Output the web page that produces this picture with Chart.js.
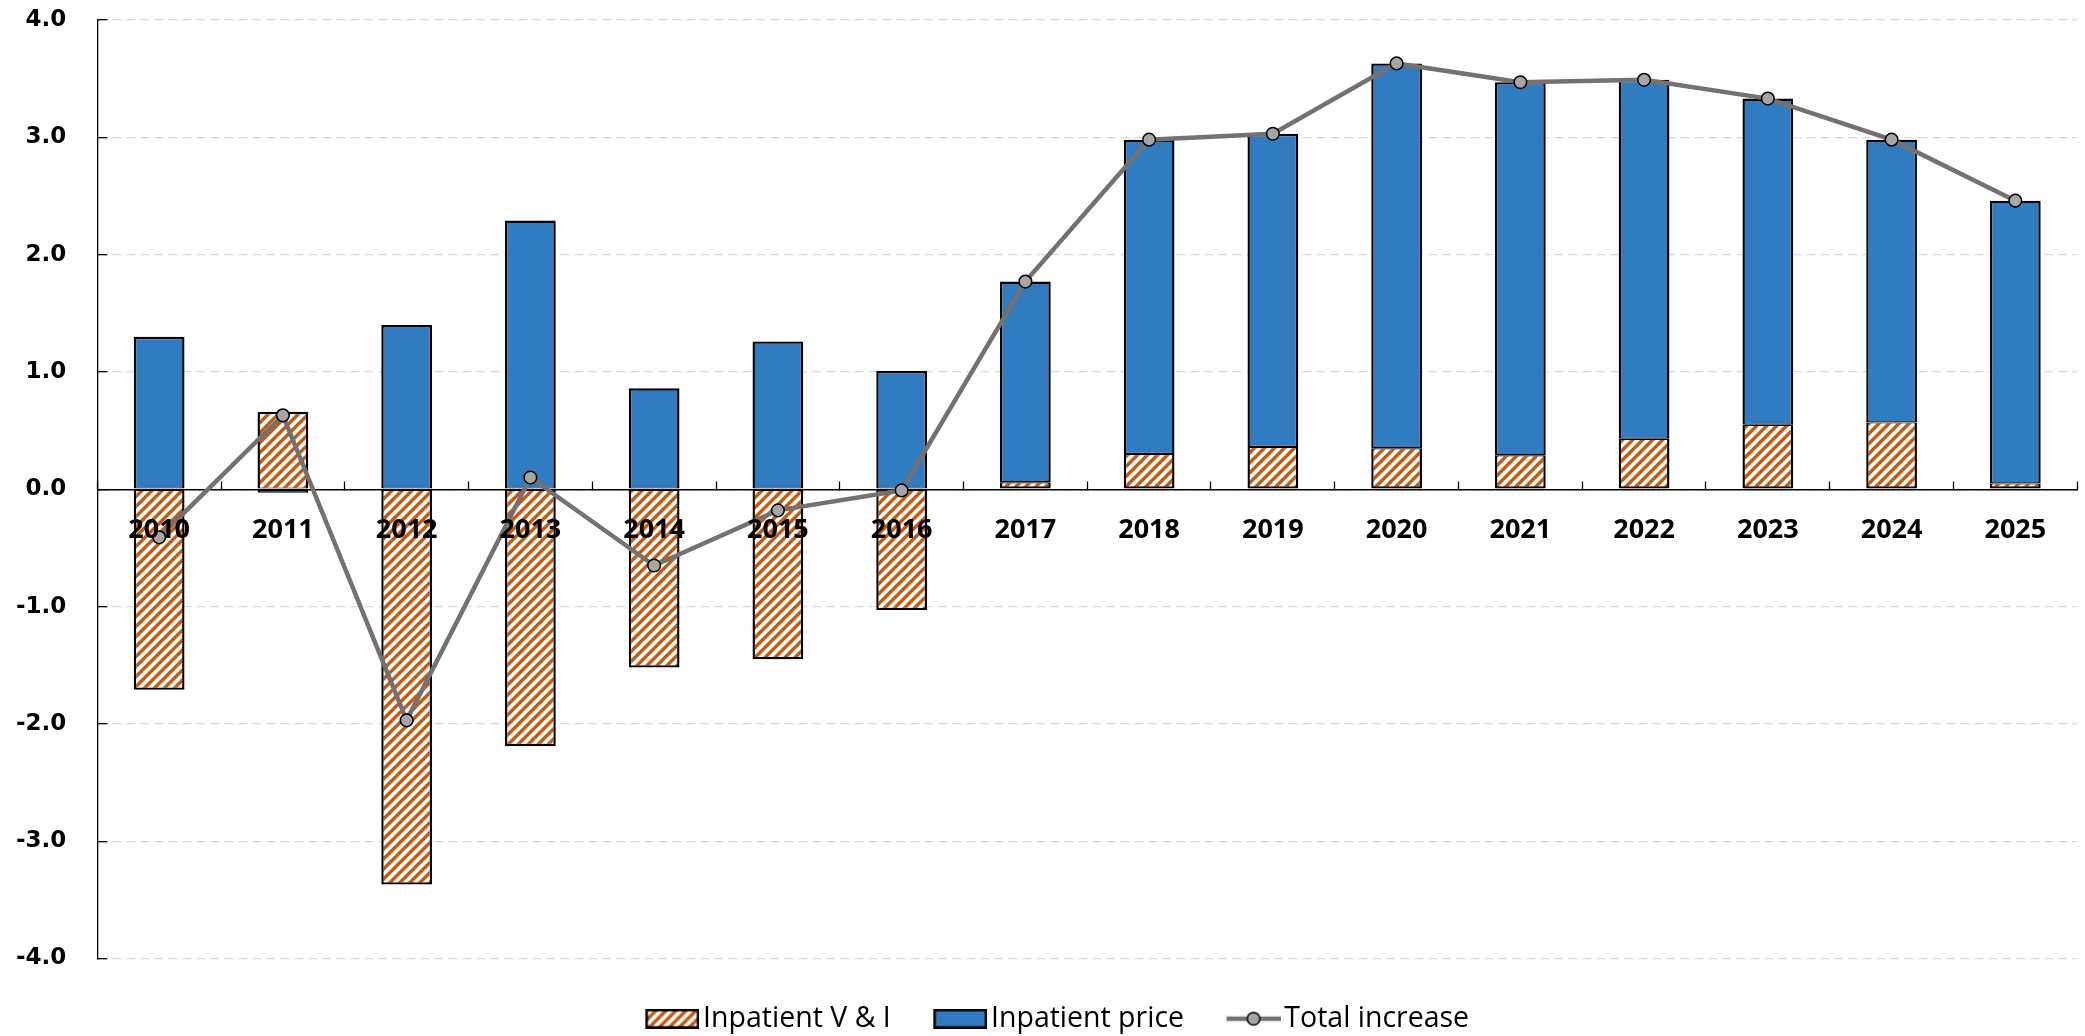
<!DOCTYPE html>
<html>
<head>
<meta charset="utf-8">
<script src="https://cdn.jsdelivr.net/npm/chart.js@4.4.1/dist/chart.umd.min.js"></script>
<style>
  html, body { margin: 0; padding: 0; background: #ffffff; }
  #wrap { width: 2085px; height: 1036px; position: relative; }
</style>
</head>
<body>
<div id="wrap"><canvas id="chart"></canvas></div>
<script>
// ---- Data ----
const categories = ['2010','2011','2012','2013','2014','2015','2016','2017','2018','2019','2020','2021','2022','2023','2024','2025'];
const inpatientVI = [-1.71, 0.66, -3.37, -2.19, -1.52, -1.45, -1.03, 0.06, 0.30, 0.36, 0.35, 0.29, 0.43, 0.55, 0.57, 0.05];
const inpatientPrice = [1.30, -0.03, 1.40, 2.29, 0.86, 1.26, 1.01, 1.71, 2.68, 2.67, 3.28, 3.18, 3.06, 2.78, 2.41, 2.41];
const totalIncrease = [-0.41, 0.63, -1.97, 0.10, -0.65, -0.18, -0.01, 1.77, 2.98, 3.03, 3.63, 3.47, 3.49, 3.33, 2.98, 2.46];
const yTickValues = [-4, -3, -2, -1, 0, 1, 2, 3, 4];
const seriesLabels = ['Inpatient V & I', 'Inpatient price', 'Total increase'];

// ---- Styles ----
const ORANGE = [197, 90, 17];
const BLUE = '#317CC1';
const LINE_GRAY = '#767171';
const MARKER_GRAY = '#A6A6A6';
const BW = 2.4;

function makeHatchTile() {
  const s = 10;
  const c = document.createElement('canvas');
  c.width = s; c.height = s;
  const g = c.getContext('2d');
  const img = g.createImageData(s, s);
  for (let y = 0; y < s; y++) {
    for (let x = 0; x < s; x++) {
      const d = (x + y) % s;
      let a = 0;
      if (d < 4) a = 1;
      else if (d === 4 || d === s - 1) a = 0.45;
      const i = (y * s + x) * 4;
      img.data[i]     = Math.round(255 + (ORANGE[0] - 255) * a);
      img.data[i + 1] = Math.round(255 + (ORANGE[1] - 255) * a);
      img.data[i + 2] = Math.round(255 + (ORANGE[2] - 255) * a);
      img.data[i + 3] = 255;
    }
  }
  g.putImageData(img, 0, 0);
  return c;
}
const hatchTile = makeHatchTile();
const hatchPattern = document.createElement('canvas').getContext('2d').createPattern(hatchTile, 'repeat');

// legend icons: 54px wide visible symbol, drawn with a 7px transparent lead-in
const ICON_LEAD = 7;
function legendBox(fill) {
  const c = document.createElement('canvas');
  c.width = 54 + ICON_LEAD; c.height = 20;
  const g = c.getContext('2d');
  g.translate(ICON_LEAD, 0);
  g.fillStyle = fill === 'hatch' ? g.createPattern(hatchTile, 'repeat') : fill;
  g.fillRect(0, 0, 54, 20);
  g.lineWidth = 2.6;
  g.strokeStyle = '#000';
  g.strokeRect(1.3, 1.3, 54 - 2.6, 20 - 2.6);
  return c;
}
function legendLine() {
  const c = document.createElement('canvas');
  c.width = 54 + ICON_LEAD; c.height = 18;
  const g = c.getContext('2d');
  g.translate(ICON_LEAD, 0);
  g.strokeStyle = LINE_GRAY;
  g.lineWidth = 4.5;
  g.beginPath(); g.moveTo(0, 9); g.lineTo(54, 9); g.stroke();
  g.beginPath(); g.arc(27, 9, 6.3, 0, Math.PI * 2);
  g.fillStyle = MARKER_GRAY; g.fill();
  g.lineWidth = 1.5; g.strokeStyle = '#000'; g.stroke();
  return c;
}
const legendIcons = [legendBox('hatch'), legendBox(BLUE), legendLine()];

// borders: half width where the two stacked segments meet
function viBorder(ctx) {
  const p = inpatientPrice[ctx.dataIndex];
  return p >= 0 ? {top: BW / 2, bottom: BW, left: BW, right: BW} : {top: BW, bottom: BW / 2, left: BW, right: BW};
}
function priceBorder(ctx) {
  const p = inpatientPrice[ctx.dataIndex];
  return p >= 0 ? {top: BW, bottom: BW / 2, left: BW, right: BW} : {top: BW / 2, bottom: BW, left: BW, right: BW};
}

const legendShift = {
  id: 'legendShift',
  afterLayout(chart) { if (chart.legend) { chart.legend.left += 21; } }
};

new Chart(document.getElementById('chart'), {
  data: {
    labels: categories,
    datasets: [
      {
        type: 'bar', label: seriesLabels[0], data: inpatientVI,
        backgroundColor: hatchPattern, borderColor: '#000', borderWidth: viBorder,
        borderSkipped: false, barPercentage: 0.41, categoryPercentage: 1, order: 1
      },
      {
        type: 'bar', label: seriesLabels[1], data: inpatientPrice,
        backgroundColor: BLUE, borderColor: '#000', borderWidth: priceBorder,
        borderSkipped: false, barPercentage: 0.41, categoryPercentage: 1, order: 1
      },
      {
        type: 'line', label: seriesLabels[2], data: totalIncrease,
        borderColor: LINE_GRAY, borderWidth: 4.5, tension: 0,
        pointRadius: 6.3, pointHoverRadius: 6.3, pointBackgroundColor: MARKER_GRAY,
        pointBorderColor: '#000', pointBorderWidth: 1.5, order: 0, clip: false
      }
    ]
  },
  plugins: [legendShift],
  options: {
    responsive: true,
    maintainAspectRatio: false,
    devicePixelRatio: 1,
    animation: false,
    events: [],
    layout: { padding: { top: 20, left: 16, right: 4, bottom: -7 } },
    scales: {
      x: {
        stacked: true,
        position: { y: 0 },
        offset: true,
        afterFit: (scale) => { scale.height = 0; },
        grid: {
          display: true, drawOnChartArea: false, drawTicks: true, offset: true,
          tickLength: -9, tickColor: '#000', tickWidth: 1.3, color: '#000'
        },
        border: { display: true, color: '#000', width: 1.5 },
        ticks: {
          z: 1, autoSkip: false, maxRotation: 0, minRotation: 0, padding: 34,
          color: '#000', font: { family: 'Open Sans', weight: 'bold', size: 27 }
        }
      },
      y: {
        stacked: true,
        min: yTickValues[0], max: yTickValues[yTickValues.length - 1],
        afterBuildTicks: (scale) => { scale.ticks = yTickValues.map(v => ({ value: v })); },
        afterFit: (scale) => {
          const p = scale.options.ticks.padding;
          scale.width -= p;
          scale.paddingTop = Math.max(scale.paddingTop - p, 0);
          scale.paddingBottom = Math.max(scale.paddingBottom - p, 0);
        },
        grid: {
          color: '#D9D9D9', lineWidth: 1.3, drawTicks: true,
          tickLength: -10, tickColor: '#000', tickWidth: 1.3
        },
        border: { display: true, color: '#000', width: 1.3, dash: [9, 5] },
        ticks: {
          padding: 41, color: '#000',
          font: { family: 'DejaVu Sans', weight: 'bold', size: 23 },
          callback: (v) => Number(v).toFixed(1)
        }
      }
    },
    plugins: {
      tooltip: { enabled: false },
      legend: {
        display: true, position: 'bottom', align: 'center',
        labels: {
          usePointStyle: true, pointStyleWidth: 40, boxHeight: 20, padding: 46,
          color: '#000', font: { family: 'Open Sans', size: 28.5 },
          generateLabels: (chart) => chart.data.datasets.map((ds, i) => ({
            text: ds.label, pointStyle: legendIcons[i], datasetIndex: i,
            hidden: false, lineWidth: 0, strokeStyle: 'rgba(0,0,0,0)', fillStyle: 'rgba(0,0,0,0)',
            fontColor: '#000'
          }))
        }
      }
    }
  }
});
</script>
</body>
</html>
